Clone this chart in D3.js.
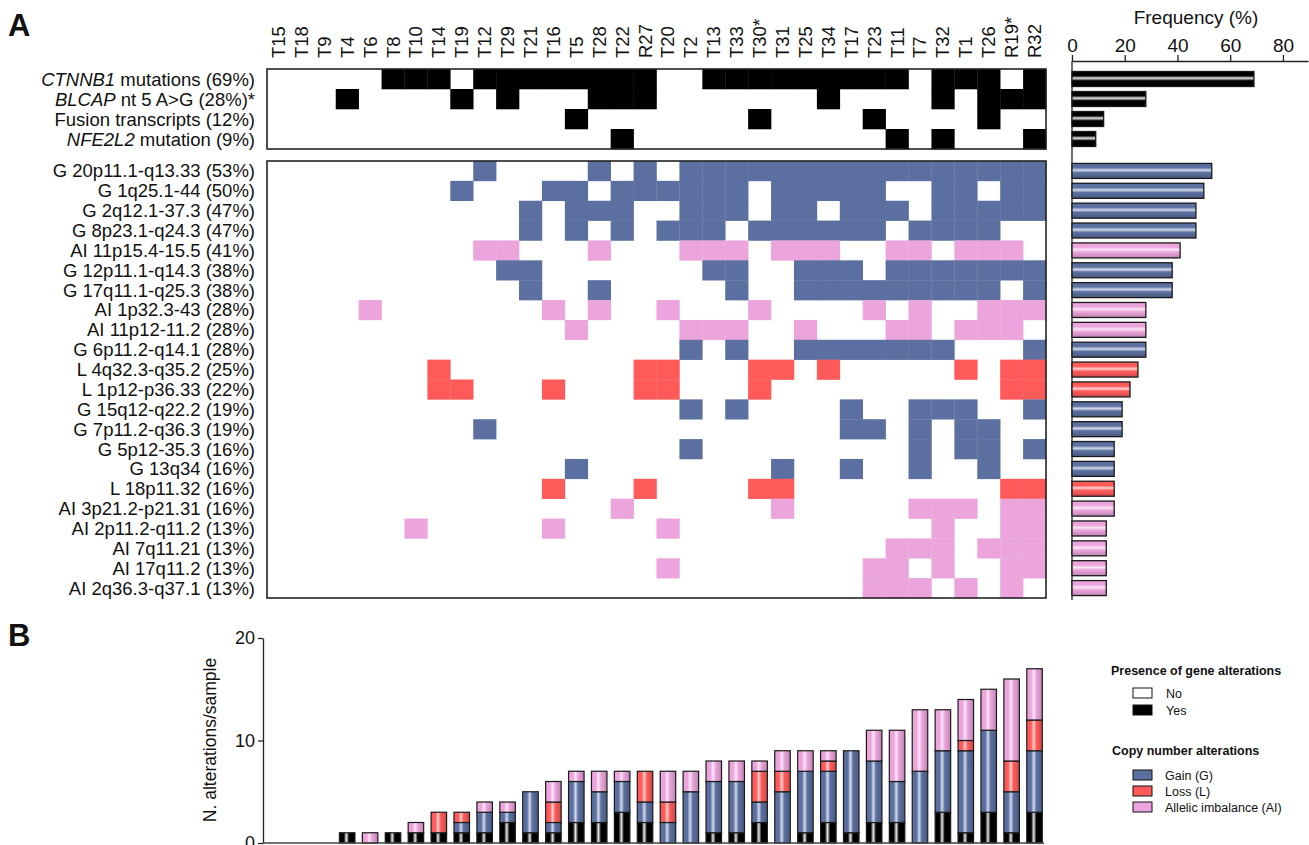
<!DOCTYPE html>
<html>
<head>
<meta charset="utf-8">
<script src="https://cdn.jsdelivr.net/npm/d3@7"></script>
<style>
body { margin: 0; background: #fff; }
text { font-family: "Liberation Sans", Arial, sans-serif; fill: #111; }
</style>
</head>
<body>
<svg id="fig" width="1309" height="845"></svg>
<script>
// ---- data ----
var samples = ["T15","T18","T9","T4","T6","T8","T10","T14","T19","T12","T29","T21","T16","T5","T28","T22","R27",
               "T20","T2","T13","T33","T30*","T31","T25","T34","T17","T23","T11","T7","T32","T1","T26","R19*","R32"];

// gene alterations (black rows); italic part + rest of label
var geneItalic = ["CTNNB1", "BLCAP", "", "NFE2L2"];
var geneRest = [" mutations (69%)", " nt 5 A>G (28%)*", "Fusion transcripts (12%)", " mutation (9%)"];
var geneFreq = [69, 28, 12, 9];
var geneHits = [
    [5,6,7,9,10,11,12,13,14,15,16,19,20,21,22,23,24,25,26,27,29,30,31,33],
    [3,8,10,14,15,16,24,29,31,32,33],
    [13,21,26,31],
    [15,27,29,33]
];

// copy number alterations
var cnaLabels = ["G 20p11.1-q13.33 (53%)","G 1q25.1-44 (50%)","G 2q12.1-37.3 (47%)","G 8p23.1-q24.3 (47%)",
    "AI 11p15.4-15.5 (41%)","G 12p11.1-q14.3 (38%)","G 17q11.1-q25.3 (38%)","AI 1p32.3-43 (28%)",
    "AI 11p12-11.2 (28%)","G 6p11.2-q14.1 (28%)","L 4q32.3-q35.2 (25%)","L 1p12-p36.33 (22%)",
    "G 15q12-q22.2 (19%)","G 7p11.2-q36.3 (19%)","G 5p12-35.3 (16%)","G 13q34 (16%)",
    "L 18p11.32 (16%)","AI 3p21.2-p21.31 (16%)","AI 2p11.2-q11.2 (13%)","AI 7q11.21 (13%)",
    "AI 17q11.2 (13%)","AI 2q36.3-q37.1 (13%)"];
var cnaFreq = [53,50,47,47,41,38,38,28,28,28,25,22,19,19,16,16,16,16,13,13,13,13];
var cnaHits = [
    [9,14,16,18,19,20,21,22,23,24,25,26,27,28,29,30,31,32,33],
    [8,12,13,15,16,17,18,19,20,22,23,24,25,26,29,30,32,33],
    [11,13,14,15,18,19,20,22,23,25,26,27,29,30,31,32,33],
    [11,13,15,17,18,19,21,22,23,24,25,26,28,29,30,31],
    [9,10,14,18,19,20,22,23,24,27,28,30,31,32],
    [10,11,19,20,23,24,25,27,28,29,30,31,32,33],
    [11,14,20,23,24,25,26,27,28,29,30,31,33],
    [4,12,14,17,21,26,28,31,32,33],
    [13,18,19,20,23,27,28,30,31,32],
    [18,20,23,24,25,26,27,28,29,33],
    [7,16,17,21,22,24,30,32,33],
    [7,8,12,16,17,21,32,33],
    [18,20,25,28,29,30,33],
    [9,25,26,28,30,31],
    [18,28,30,31,33],
    [13,22,25,28,31],
    [12,16,21,22,32,33],
    [15,22,28,29,30,32,33],
    [6,12,17,29,32,33],
    [27,28,29,31,32,33],
    [17,26,27,29,32,33],
    [26,27,28,30,32]
];

// panel B: alterations per sample
var nGene = [0,0,0,1,0,1,1,1,1,1,2,1,1,2,2,3,2,0,0,1,1,2,0,1,2,1,2,2,0,3,1,3,1,3];
var nGain = [0,0,0,0,0,0,0,0,1,2,1,4,1,4,3,3,2,2,5,5,5,2,5,6,5,8,6,4,7,6,8,8,4,6];
var nLoss = [0,0,0,0,0,0,0,2,1,0,0,0,2,0,0,0,3,2,0,0,0,3,2,0,1,0,0,0,0,0,1,0,3,3];
var nAI   = [0,0,0,0,1,0,1,0,0,1,1,0,2,1,2,1,0,3,2,2,2,1,2,2,1,0,3,5,6,4,4,4,8,5];

var colors = { G: "#5b70a0", L: "#ff5a5a", AI: "#eba5dc", K: "#000000" };
var lights = { G: "#d2d9ea", L: "#ffd0d0", AI: "#fbe6f6", K: "#e6e6e6" };

var svg = d3.select("#fig");
var defs = svg.append("defs");

function addGrad(id, base, light, vertical) {
    var g = defs.append("linearGradient").attr("id", id)
        .attr("x1", 0).attr("y1", 0)
        .attr("x2", vertical ? 0 : 1).attr("y2", vertical ? 1 : 0);
    [[0, base], [0.28, base], [0.45, light], [0.62, base], [1, d3.color(base).darker(0.6)]].forEach(function (s) {
        g.append("stop").attr("offset", s[0]).attr("stop-color", s[1]);
    });
}
Object.keys(colors).forEach(function (k) {
    addGrad("v" + k, colors[k], lights[k], false);
    addGrad("h" + k, colors[k], lights[k], true);
});

// ---- heatmap geometry ----
var x = d3.scaleBand().domain(d3.range(samples.length)).range([267, 1046]).padding(0);
var yGene = d3.scaleBand().domain(d3.range(4)).range([69, 149]);
var yCna = d3.scaleBand().domain(d3.range(cnaLabels.length)).range([161, 598]);

svg.append("text").attr("x", 8).attr("y", 36).style("font-size", "31px").style("font-weight", "bold").text("A");
svg.append("text").attr("x", 8).attr("y", 646).style("font-size", "31px").style("font-weight", "bold").text("B");

// sample labels
svg.append("g").selectAll("text").data(samples).enter().append("text")
    .attr("transform", function (d, i) { return "translate(" + (x(i) + x.bandwidth() / 2 + 6.5) + ",58) rotate(-90)"; })
    .style("font-size", "18.5px")
    .text(function (d) { return d; });

// gene rows
var geneCells = [];
geneHits.forEach(function (h, r) { h.forEach(function (c) { geneCells.push({ r: r, c: c }); }); });
svg.append("g").selectAll("rect").data(geneCells).enter().append("rect")
    .attr("x", function (d) { return x(d.c); })
    .attr("y", function (d) { return yGene(d.r); })
    .attr("width", x.bandwidth() + 0.3)
    .attr("height", yGene.bandwidth() + 0.3)
    .attr("fill", "#000");
svg.append("rect").attr("x", 267).attr("y", 69).attr("width", 779).attr("height", 80)
    .attr("fill", "none").attr("stroke", "#222").attr("stroke-width", 1.6);

var gl = svg.append("g").selectAll("text").data(geneItalic).enter().append("text")
    .attr("x", 255).attr("y", function (d, i) { return yGene(i) + yGene.bandwidth() / 2 + 6.5; })
    .attr("text-anchor", "end").style("font-size", "18.5px");
gl.append("tspan").style("font-style", "italic").text(function (d) { return d; });
gl.append("tspan").text(function (d, i) { return geneRest[i]; });

// cna rows
var cnaCells = [];
cnaHits.forEach(function (h, r) {
    var t = cnaLabels[r].split(" ")[0];
    h.forEach(function (c) { cnaCells.push({ r: r, c: c, t: t }); });
});
svg.append("g").selectAll("rect").data(cnaCells).enter().append("rect")
    .attr("x", function (d) { return x(d.c); })
    .attr("y", function (d) { return yCna(d.r); })
    .attr("width", x.bandwidth() + 0.3)
    .attr("height", yCna.bandwidth() + 0.3)
    .attr("fill", function (d) { return colors[d.t]; });
svg.append("rect").attr("x", 267).attr("y", 161).attr("width", 779).attr("height", 437)
    .attr("fill", "none").attr("stroke", "#222").attr("stroke-width", 1.6);

svg.append("g").selectAll("text").data(cnaLabels).enter().append("text")
    .attr("x", 255).attr("y", function (d, i) { return yCna(i) + yCna.bandwidth() / 2 + 6.5; })
    .attr("text-anchor", "end").style("font-size", "18.5px")
    .text(function (d) { return d; });

// ---- frequency panel ----
var fx = d3.scaleLinear().domain([0, 89.5]).range([1072, 1308]);
var fAxis = svg.append("g").attr("transform", "translate(0,61)")
    .call(d3.axisTop(fx).tickValues([0, 20, 40, 60, 80]).tickSize(6).tickSizeOuter(0));
fAxis.selectAll("text").style("font-size", "19px").attr("fill", "#111");
fAxis.selectAll("line, path").attr("stroke", "#222").attr("stroke-width", 1.3);
svg.append("text").attr("x", 1196).attr("y", 24).attr("text-anchor", "middle")
    .style("font-size", "19px").text("Frequency (%)");
svg.append("line").attr("x1", fx(0)).attr("x2", fx(0)).attr("y1", 61).attr("y2", 600)
    .attr("stroke", "#222").attr("stroke-width", 1.3);

var freqBars = [];
geneFreq.forEach(function (v, i) { freqBars.push({ v: v, y: yGene(i) + yGene.bandwidth() / 2, t: "K" }); });
cnaFreq.forEach(function (v, i) { freqBars.push({ v: v, y: yCna(i) + yCna.bandwidth() / 2, t: cnaLabels[i].split(" ")[0] }); });
svg.append("g").selectAll("rect").data(freqBars).enter().append("rect")
    .attr("x", fx(0))
    .attr("y", function (d) { return d.y - 7.5; })
    .attr("width", function (d) { return fx(d.v) - fx(0); })
    .attr("height", 15)
    .attr("fill", function (d) { return "url(#h" + d.t + ")"; })
    .attr("stroke", "#1a1a1a").attr("stroke-width", 1.3);

// ---- panel B ----
var by = d3.scaleLinear().domain([0, 20]).range([843, 638]);
var rows = samples.map(function (s, i) {
    return { i: i, K: nGene[i], G: nGain[i], L: nLoss[i], AI: nAI[i] };
});
var stack = d3.stack().keys(["K", "G", "L", "AI"])(rows);
var bw = 15.5;
stack.forEach(function (layer) {
    svg.append("g").selectAll("rect")
        .data(layer.filter(function (d) { return d[1] > d[0]; }))
        .enter().append("rect")
        .attr("x", function (d) { return x(d.data.i) + x.bandwidth() / 2 - bw / 2; })
        .attr("y", function (d) { return by(d[1]); })
        .attr("width", bw)
        .attr("height", function (d) { return by(d[0]) - by(d[1]); })
        .attr("fill", "url(#v" + layer.key + ")")
        .attr("stroke", "#1a1a1a").attr("stroke-width", 1.2);
});

var yAx = svg.append("g").attr("transform", "translate(263,0)")
    .call(d3.axisLeft(by).tickValues([0, 10, 20]).tickSize(5).tickSizeOuter(0));
yAx.selectAll("text").style("font-size", "18px").attr("fill", "#111");
yAx.selectAll("line, path").attr("stroke", "#222").attr("stroke-width", 1.3);
svg.append("line").attr("x1", 263).attr("x2", 1044).attr("y1", 843).attr("y2", 843)
    .attr("stroke", "#444").attr("stroke-width", 1.3);
svg.append("text").attr("transform", "translate(216,740) rotate(-90)")
    .attr("text-anchor", "middle").style("font-size", "17.5px").text("N. alterations/sample");

// ---- legend ----
var lg = svg.append("g");
lg.append("text").attr("x", 1111).attr("y", 675).style("font-size", "12.5px").style("font-weight", "bold")
    .text("Presence of gene alterations");
var presence = [["No", "#fff"], ["Yes", "#000"]];
presence.forEach(function (p, i) {
    lg.append("rect").attr("x", 1133).attr("y", 688 + i * 17).attr("width", 19).attr("height", 10)
        .attr("fill", p[1]).attr("stroke", "#111").attr("stroke-width", 1);
    lg.append("text").attr("x", 1166).attr("y", 698 + i * 17).style("font-size", "12.5px").text(p[0]);
});
lg.append("text").attr("x", 1112).attr("y", 755).style("font-size", "12.5px").style("font-weight", "bold")
    .text("Copy number alterations");
var cnaLegend = [["Gain (G)", "G"], ["Loss (L)", "L"], ["Allelic imbalance (AI)", "AI"]];
cnaLegend.forEach(function (p, i) {
    lg.append("rect").attr("x", 1133).attr("y", 770 + i * 16).attr("width", 19).attr("height", 10)
        .attr("fill", colors[p[1]]).attr("stroke", "#111").attr("stroke-width", 1);
    lg.append("text").attr("x", 1165).attr("y", 780 + i * 16).style("font-size", "12.5px").text(p[0]);
});
</script>
</body>
</html>
